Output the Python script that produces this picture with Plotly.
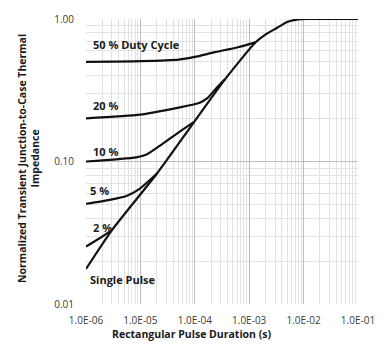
import plotly.graph_objects as go

# Pulse duration (s) and normalized thermal impedance for each duty cycle
single_t = [1.0e-6, 3.0e-6, 2.0e-5, 9.4e-5, 3.58e-4, 1.31e-3, 1.98e-3, 3.27e-3, 4.97e-3, 7.5e-3, 1.14e-2, 3.0e-2, 1.0e-1]
single_z = [0.0176, 0.033, 0.082, 0.186, 0.377, 0.686, 0.778, 0.868, 0.954, 0.99, 1.0, 1.0, 1.0]

d50_t = [1.0e-6, 1.0e-5, 5.05e-5, 1.0e-4, 2.26e-4, 6.2e-4, 1.31e-3]
d50_z = [0.50, 0.506, 0.519, 0.542, 0.583, 0.634, 0.686]

d20_t = [1.0e-6, 1.0e-5, 5.05e-5, 1.2e-4, 1.7e-4, 2.4e-4, 3.58e-4]
d20_z = [0.201, 0.213, 0.239, 0.257, 0.278, 0.322, 0.377]

d10_t = [1.0e-6, 8.4e-6, 1.3e-5, 2.48e-5, 5.05e-5, 9.4e-5]
d10_z = [0.100, 0.107, 0.112, 0.132, 0.160, 0.188]

d5_t = [1.0e-6, 2.72e-6, 5.53e-6, 9.5e-6, 2.0e-5]
d5_z = [0.0505, 0.0538, 0.0573, 0.064, 0.082]

d2_t = [1.0e-6, 1.72e-6, 3.0e-6]
d2_z = [0.0253, 0.0287, 0.033]

x_tickvals = [1e-6, 1e-5, 1e-4, 1e-3, 1e-2, 1e-1]
x_ticktext = ["1.0E-06", "1.0E-05", "1.0E-04", "1.0E-03", "1.0E-02", "1.0E-01"]
y_tickvals = [0.01, 0.1, 1.0]
y_ticktext = ["0.01", "0.10", "1.00"]

curve_labels = ["50 % Duty Cycle", "20 %", "10 %", "5 %", "2 %", "Single Pulse"]
label_x = [-5.91, -5.91, -5.91, -5.96, -5.91, -5.96]
label_y = [-0.1775, -0.6075, -0.928, -1.201, -1.461, -1.829]

fig = go.Figure()
for t, z in [(d50_t, d50_z), (d20_t, d20_z), (d10_t, d10_z),
             (d5_t, d5_z), (d2_t, d2_z), (single_t, single_z)]:
    fig.add_trace(go.Scatter(
        x=t, y=z, mode="lines",
        line=dict(color="#111111", width=2.2, shape="spline", smoothing=0.6),
        showlegend=False, hoverinfo="skip",
    ))

label_font = dict(family="Open Sans", size=11, color="#1a1a1a")
for txt, lx, ly in zip(curve_labels, label_x, label_y):
    fig.add_annotation(
        x=lx, y=ly, xref="x", yref="y", text="<b>" + txt + "</b>",
        showarrow=False, xanchor="left", yanchor="middle", font=label_font,
    )

title_font = dict(family="Open Sans", size=10.5, color="#1a1a1a")
fig.add_annotation(
    x=0.388, y=-0.106, xref="paper", yref="paper",
    text="<b>Rectangular Pulse Duration (s)</b>",
    showarrow=False, xanchor="center", yanchor="middle", font=title_font,
)
fig.add_annotation(
    x=-0.21, y=0.512, xref="paper", yref="paper", textangle=-90,
    text="<b>Normalized Transient Junction-to-Case Thermal<br>Impedance</b>",
    showarrow=False, xanchor="center", yanchor="middle", font=title_font,
)

tick_font = dict(family="Open Sans", size=10, color="#3a3a3a")
fig.update_xaxes(
    type="log", range=[-6, -1],
    tickvals=x_tickvals, ticktext=x_ticktext,
    showgrid=True, gridcolor="#bdbdbd", gridwidth=1,
    minor=dict(showgrid=True, gridcolor="#e2e2e2", gridwidth=1, dtick="D1"),
    zeroline=False, showline=False, ticks="", tickfont=tick_font,
    ticklabelstandoff=9,
)
fig.update_yaxes(
    type="log", range=[-2, 0],
    tickvals=y_tickvals, ticktext=y_ticktext,
    showgrid=True, gridcolor="#bdbdbd", gridwidth=1,
    minor=dict(showgrid=True, gridcolor="#e2e2e2", gridwidth=1, dtick="D1"),
    zeroline=False, showline=False, ticks="", tickfont=tick_font,
    ticklabelstandoff=11,
)

fig.update_layout(
    width=386, height=356,
    margin=dict(l=86, r=24, t=11, b=52),
    paper_bgcolor="white", plot_bgcolor="white",
)

fig.write_html("out.html")
